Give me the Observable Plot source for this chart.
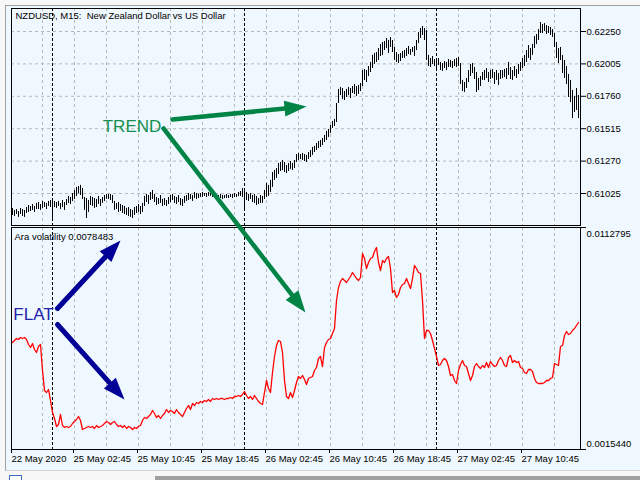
<!DOCTYPE html>
<html><head><meta charset="utf-8">
<script src="https://cdn.jsdelivr.net/npm/d3@7"></script>
<script src="https://cdn.jsdelivr.net/npm/@observablehq/plot@0.6"></script>
<style>
html,body{margin:0;padding:0;background:#ffffff;}
#wrap{position:relative;width:640px;height:480px;overflow:hidden;background:#f7f7f7;}
#win{position:absolute;left:5px;top:5px;width:635px;height:466px;border-left:1px solid #a0a0a0;border-top:1px solid #a0a0a0;border-bottom:1px solid #d4d4d4;background:#f0f8ff;box-sizing:border-box;}
#bar{position:absolute;left:155px;top:476px;width:485px;height:4px;background:#a0a0a0;}
#tab{position:absolute;left:9px;top:475px;width:11px;height:8px;border:1px solid #3a6fc4;background:#ffffff;}
.layer{position:absolute;left:0;top:0;}
</style></head>
<body><div id="wrap"><div id="win"></div><div id="bar"></div><div id="tab"></div><div id="bot" class="layer"></div><div id="topLayer" class="layer"></div></div>
<script>
// ---- data (bar index 0 = 22 May 2020 19:00, M15) ----
const high = [
0.60912,0.60897,0.60904,0.60889,0.60912,0.60904,0.60897,0.60919,0.60934,0.60927,
0.60942,0.60927,0.60950,0.60957,0.60942,0.60965,0.60957,0.60950,0.60965,0.60972,
0.60972,0.60965,0.60957,0.60965,0.60950,0.60972,0.60957,0.60980,0.61003,0.60995,
0.61025,0.61048,0.61071,0.61078,0.61086,0.61063,0.60995,0.60987,0.60972,0.61003,
0.60995,0.60987,0.60980,0.61003,0.60980,0.60995,0.61010,0.61018,0.61018,0.61018,
0.61010,0.60965,0.60950,0.60957,0.60942,0.60934,0.60927,0.60912,0.60919,0.60904,
0.60897,0.60919,0.60927,0.60942,0.60927,0.60950,0.61003,0.61018,0.61010,0.61033,
0.61048,0.61018,0.60995,0.60987,0.61010,0.60980,0.60987,0.60972,0.60995,0.61010,
0.61018,0.61003,0.60995,0.61010,0.60987,0.60980,0.61003,0.61010,0.61025,0.61018,
0.61010,0.61033,0.61025,0.61018,0.61025,0.61033,0.61025,0.61025,0.61033,0.61025,
0.61018,0.61025,0.61018,0.61010,0.61018,0.61010,0.61010,0.61018,0.61010,0.61018,
0.61018,0.61025,0.61018,0.61033,0.61040,0.61063,0.61048,0.61033,0.61018,0.61025,
0.61010,0.61018,0.61003,0.60987,0.61010,0.61003,0.61048,0.61101,0.61086,0.61124,
0.61184,0.61199,0.61214,0.61252,0.61260,0.61275,0.61260,0.61237,0.61252,0.61267,
0.61252,0.61275,0.61320,0.61328,0.61320,0.61328,0.61320,0.61313,0.61335,0.61350,
0.61373,0.61381,0.61403,0.61418,0.61426,0.61441,0.61464,0.61494,0.61509,0.61539,
0.61570,0.61585,0.61706,0.61812,0.61827,0.61819,0.61796,0.61812,0.61827,0.61819,
0.61834,0.61849,0.61834,0.61842,0.61857,0.61955,0.61963,0.61955,0.61985,0.62016,
0.62069,0.62084,0.62091,0.62121,0.62152,0.62167,0.62174,0.62197,0.62182,0.62205,
0.62182,0.62129,0.62091,0.62076,0.62084,0.62099,0.62106,0.62121,0.62137,0.62114,
0.62129,0.62137,0.62182,0.62242,0.62273,0.62288,0.62273,0.62258,0.62069,0.62046,
0.62061,0.62038,0.62031,0.62046,0.62016,0.62008,0.62023,0.62016,0.62038,0.62031,
0.62023,0.62038,0.62046,0.62053,0.62008,0.61880,0.61864,0.61895,0.61955,0.62001,
0.62008,0.61978,0.61940,0.61895,0.61910,0.61940,0.61955,0.61970,0.61940,0.61955,
0.61963,0.61940,0.61955,0.61932,0.61955,0.61955,0.61963,0.61970,0.62016,0.61978,
0.61955,0.61985,0.61963,0.62001,0.62016,0.62046,0.62069,0.62106,0.62144,0.62121,
0.62152,0.62212,0.62227,0.62265,0.62318,0.62303,0.62310,0.62295,0.62288,0.62280,
0.62265,0.62235,0.62167,0.62121,0.62129,0.62069,0.62031,0.61985,0.61925,0.61880,
0.61804,0.61759,0.61819,0.61766];
const low = [
0.60859,0.60851,0.60866,0.60844,0.60866,0.60851,0.60844,0.60874,0.60882,0.60889,
0.60897,0.60882,0.60904,0.60904,0.60897,0.60912,0.60919,0.60904,0.60927,0.60919,
0.60821,0.60919,0.60912,0.60927,0.60904,0.60919,0.60897,0.60934,0.60950,0.60942,
0.60965,0.60980,0.61003,0.61025,0.61010,0.60980,0.60897,0.60836,0.60882,0.60934,
0.60927,0.60912,0.60919,0.60942,0.60927,0.60950,0.60965,0.60980,0.60980,0.60972,
0.60950,0.60897,0.60904,0.60882,0.60889,0.60874,0.60866,0.60859,0.60851,0.60844,
0.60836,0.60859,0.60874,0.60882,0.60866,0.60882,0.60927,0.60957,0.60942,0.60972,
0.60980,0.60957,0.60934,0.60942,0.60950,0.60927,0.60934,0.60927,0.60942,0.60957,
0.60972,0.60950,0.60942,0.60957,0.60934,0.60927,0.60950,0.60965,0.60972,0.60980,
0.60965,0.60987,0.60980,0.60987,0.60995,0.60995,0.61003,0.60995,0.61003,0.61003,
0.60995,0.60995,0.60987,0.60987,0.60987,0.60980,0.60987,0.60987,0.60987,0.60995,
0.60987,0.60995,0.60995,0.61003,0.61003,0.60995,0.60897,0.60972,0.60965,0.60980,
0.60957,0.60950,0.60934,0.60942,0.60950,0.60950,0.60980,0.60995,0.61003,0.61033,
0.61071,0.61124,0.61139,0.61169,0.61192,0.61199,0.61184,0.61176,0.61192,0.61207,
0.61199,0.61214,0.61260,0.61275,0.61282,0.61275,0.61267,0.61260,0.61282,0.61297,
0.61313,0.61335,0.61350,0.61365,0.61373,0.61388,0.61411,0.61426,0.61449,0.61479,
0.61517,0.61532,0.61562,0.61706,0.61766,0.61736,0.61728,0.61751,0.61766,0.61743,
0.61781,0.61774,0.61759,0.61774,0.61796,0.61834,0.61880,0.61864,0.61910,0.61940,
0.61970,0.62001,0.62016,0.62031,0.62061,0.62069,0.62106,0.62121,0.62084,0.62129,
0.62091,0.62031,0.62016,0.62008,0.62023,0.62046,0.62046,0.62061,0.62076,0.62069,
0.62091,0.62061,0.62106,0.62159,0.62197,0.62220,0.62182,0.62031,0.61985,0.61978,
0.62001,0.61985,0.61970,0.61993,0.61955,0.61948,0.61970,0.61955,0.61978,0.61978,
0.61970,0.61985,0.61978,0.61985,0.61849,0.61796,0.61789,0.61819,0.61864,0.61910,
0.61932,0.61887,0.61789,0.61804,0.61834,0.61880,0.61880,0.61895,0.61864,0.61887,
0.61895,0.61849,0.61880,0.61842,0.61887,0.61895,0.61902,0.61887,0.61917,0.61887,
0.61880,0.61910,0.61895,0.61925,0.61948,0.61970,0.61985,0.62016,0.62046,0.62031,
0.62069,0.62121,0.62152,0.62182,0.62235,0.62235,0.62250,0.62227,0.62235,0.62220,
0.62205,0.62129,0.62046,0.62008,0.62031,0.61932,0.61895,0.61849,0.61751,0.61713,
0.61592,0.61638,0.61653,0.61592];
const vol = [
0.0062360,0.0063237,0.0064114,0.0063675,0.0064552,0.0064114,0.0064552,0.0063675,0.0061483,0.0060167,
0.0061921,0.0059290,0.0057975,0.0060606,0.0061483,0.0050082,0.0041312,0.0040435,0.0041750,0.0036927,
0.0031665,0.0029034,0.0025526,0.0026403,0.0030788,0.0025964,0.0025087,0.0025526,0.0025087,0.0025526,
0.0026841,0.0027718,0.0028595,0.0029911,0.0028157,0.0024210,0.0024649,0.0025087,0.0025526,0.0025087,
0.0025526,0.0024649,0.0025964,0.0025087,0.0025526,0.0025964,0.0026841,0.0027718,0.0027280,0.0026403,
0.0027280,0.0027718,0.0026403,0.0025526,0.0025964,0.0025087,0.0025964,0.0024649,0.0025526,0.0025087,
0.0024210,0.0025087,0.0024649,0.0025526,0.0025964,0.0028157,0.0029472,0.0029034,0.0029911,0.0030788,
0.0032542,0.0031226,0.0029472,0.0030349,0.0029034,0.0030349,0.0031226,0.0032980,0.0031665,0.0032542,
0.0032103,0.0031226,0.0032980,0.0031665,0.0030788,0.0029911,0.0031665,0.0033419,0.0034734,0.0032980,
0.0035611,0.0034734,0.0036050,0.0035611,0.0036488,0.0036050,0.0036927,0.0036488,0.0037365,0.0036488,
0.0037804,0.0037365,0.0037804,0.0037365,0.0037804,0.0037804,0.0037365,0.0037804,0.0037804,0.0038242,
0.0037804,0.0038681,0.0038681,0.0039119,0.0038681,0.0039558,0.0040873,0.0039119,0.0037804,0.0038681,
0.0037365,0.0039119,0.0037804,0.0036488,0.0035611,0.0035173,0.0040435,0.0045697,0.0042189,0.0040435,
0.0049205,0.0056221,0.0061044,0.0063237,0.0062798,0.0057975,0.0045697,0.0038681,0.0037804,0.0040435,
0.0038242,0.0041312,0.0044820,0.0047451,0.0046574,0.0047889,0.0046135,0.0043943,0.0046574,0.0047012,
0.0047451,0.0050082,0.0051397,0.0055344,0.0056221,0.0051836,0.0060167,0.0062360,0.0063675,0.0064114,
0.0066306,0.0068499,0.0080777,0.0086477,0.0089108,0.0090424,0.0089547,0.0088670,0.0089985,0.0091301,
0.0093055,0.0091739,0.0090424,0.0089547,0.0090862,0.0101386,0.0099194,0.0094809,0.0097440,0.0099194,
0.0099632,0.0102263,0.0104017,0.0097440,0.0093932,0.0098317,0.0097440,0.0099194,0.0100071,0.0094809,
0.0084285,0.0085162,0.0082092,0.0083408,0.0086477,0.0087793,0.0088231,0.0090424,0.0088231,0.0086038,
0.0090424,0.0096124,0.0094809,0.0093055,0.0092616,0.0080777,0.0064114,0.0067622,0.0067622,0.0066306,
0.0063237,0.0059729,0.0056221,0.0052274,0.0052713,0.0054467,0.0055344,0.0054467,0.0051836,0.0047889,
0.0048328,0.0045697,0.0044381,0.0050082,0.0052713,0.0054467,0.0052274,0.0051836,0.0048766,0.0045697,
0.0047889,0.0051836,0.0053151,0.0051836,0.0050959,0.0052274,0.0051397,0.0053590,0.0051397,0.0054028,
0.0052713,0.0051836,0.0052274,0.0054467,0.0055782,0.0054467,0.0052274,0.0051836,0.0055782,0.0056659,
0.0053590,0.0054467,0.0053590,0.0054028,0.0051397,0.0050959,0.0049205,0.0048766,0.0050520,0.0050520,
0.0049643,0.0046574,0.0044820,0.0044381,0.0044381,0.0044381,0.0044820,0.0045697,0.0045697,0.0046574,
0.0047012,0.0053151,0.0052713,0.0052274,0.0060606,0.0061044,0.0065429,0.0067183,0.0065868,0.0066306,
0.0067622,0.0068499,0.0069814,0.0071130];

const xTickIdx = [0, 31, 63, 95, 127, 159, 191, 223, 255];
const xTickLabels = ["22 May 2020","25 May 02:45","25 May 10:45","25 May 18:45","26 May 02:45","26 May 10:45","26 May 18:45","27 May 02:45","27 May 10:45"];
const gridIdx = [15,31,47,63,79,95,111,127,143,159,175,191,207,223,239,255,271];
const daySepIdx = [20, 116, 212];
const priceTicks = [0.62250, 0.62005, 0.61760, 0.61515, 0.61270, 0.61025];
const priceDomain = [0.6078303, 0.6242392];
const volDomain = [0.0015440, 0.0112795];
const titleText = ["NZDUSD, M15: \u00a0New Zealand Dollar vs US Dollar"];
const indicatorText = ["Ara volatility 0.0078483"];

// annotations (x in bar index, y in panel units)
const trendLabel = [{x: 59.75, y: 0.61528, text: "TREND"}];
const trendArrows = [
  {x1: 80, y1: 0.61585, x2: 147, y2: 0.61683},
  {x1: 75.5, y1: 0.61517, x2: 146.5, y2: 0.60125}
];
const flatLabel = [{x: 10.5, y: 0.007464, text: "FLAT"}];
const flatArrows = [
  {x1: 22.5, y1: 0.007727, x2: 54, y2: 0.010709},
  {x1: 22.5, y1: 0.007026, x2: 56, y2: 0.003737}
];

(function () {
const bars = high.map((h, i) => ({i, high: h, low: low[i], vol: vol[i]}));

const W = 640, H = 480, ML = 11, MR = 60;
const xDomain = [-0.5, 284];
const HEAD_L = 22, HEAD_W = 8;
const headSymbol = {draw(ctx) { ctx.moveTo(0, 0); ctx.lineTo(HEAD_W, HEAD_L); ctx.lineTo(-HEAD_W, HEAD_L); ctx.closePath(); }};

const xs = d3.scaleLinear(xDomain, [ML, W - MR]);
function arrowParts(list, ys) {
  return list.map(a => {
    const dx = xs(a.x2) - xs(a.x1), dy = ys(a.y2) - ys(a.y1);
    const len = Math.hypot(dx, dy);
    const f = (HEAD_L - 3) / len;
    return {...a, sx2: a.x2 - f * (a.x2 - a.x1), sy2: a.y2 - f * (a.y2 - a.y1), rot: Math.atan2(dx, -dy) * 180 / Math.PI};
  });
}
const green = "#008446", textGreen = "#12904f", navy = "#000096", flatBlue = "#2222aa";
const gTop = arrowParts(trendArrows, d3.scaleLinear(priceDomain, [225, 8]));
const gBot = arrowParts(flatArrows, d3.scaleLinear(volDomain, [449, 227]));

const style = {background: "transparent", fontFamily: "'Liberation Sans', Arial, sans-serif", fontSize: "9.5px", color: "black", overflow: "visible"};
const gridOpts = {stroke: "#b8b8b8", strokeOpacity: 1, strokeDasharray: "3,3"};

const bottomPlot = Plot.plot({
  width: W, height: H, marginLeft: ML, marginRight: MR, marginTop: 227, marginBottom: 31,
  style,
  x: {domain: xDomain, axis: null},
  y: {domain: volDomain, axis: null},
  marks: [
    Plot.gridX(gridIdx, gridOpts),
    Plot.ruleX(daySepIdx, {stroke: "black", strokeDasharray: "3,2"}),
    Plot.line(bars, {x: "i", y: "vol", stroke: "#ff0000", strokeWidth: 1.3}),
    Plot.frame({stroke: "black"}),
    Plot.axisX(xTickIdx, {anchor: "bottom", tickSize: 4, tickPadding: 2, textAnchor: "start", dx: -1, label: null,
      tickFormat: d => xTickLabels[xTickIdx.indexOf(d)]}),
    Plot.axisY(volDomain, {anchor: "right", tickSize: 5, fill: "none", label: null}),
    Plot.axisY([volDomain[1]], {anchor: "right", tickSize: 0, tickPadding: 6, dy: 6, label: null, tickFormat: d3.format(".7f")}),
    Plot.axisY([volDomain[0]], {anchor: "right", tickSize: 0, tickPadding: 6, dy: -6, label: null, tickFormat: d3.format(".7f")}),
    Plot.text(indicatorText, {frameAnchor: "top-left", dx: 3, dy: 6, textAnchor: "start", lineAnchor: "top", fill: "black"}),
    Plot.text(flatLabel, {x: "x", y: "y", text: "text", fill: flatBlue, fontSize: 17, textAnchor: "middle"}),
    Plot.link(gBot, {x1: "x1", y1: "y1", x2: "sx2", y2: "sy2", stroke: navy, strokeWidth: 5, strokeLinecap: "round"}),
    Plot.dot(gBot, {x: "x2", y: "y2", rotate: "rot", symbol: headSymbol, r: 5, fill: navy, stroke: "none"})
  ]
});
document.getElementById("bot").appendChild(bottomPlot);

const topPlot = Plot.plot({
  width: W, height: H, marginLeft: ML, marginRight: MR, marginTop: 8, marginBottom: 255,
  style,
  x: {domain: xDomain, axis: null},
  y: {domain: priceDomain, axis: null},
  marks: [
    Plot.gridX(gridIdx, gridOpts),
    Plot.gridY(priceTicks, gridOpts),
    Plot.ruleX(daySepIdx, {stroke: "black", strokeDasharray: "3,2"}),
    Plot.ruleX(bars, {x: "i", y1: "low", y2: "high", stroke: "black", strokeWidth: 1}),
    Plot.frame({stroke: "black"}),
    Plot.axisY(priceTicks, {anchor: "right", tickSize: 5, tickPadding: 1, label: null, tickFormat: d3.format(".5f")}),
    Plot.text(titleText, {frameAnchor: "top-left", dx: 4, dy: 4, textAnchor: "start", lineAnchor: "top", fill: "black"}),
    Plot.text(trendLabel, {x: "x", y: "y", text: "text", fill: textGreen, fontSize: 17, textAnchor: "middle"}),
    Plot.link(gTop, {x1: "x1", y1: "y1", x2: "sx2", y2: "sy2", stroke: green, strokeWidth: 4.5, strokeLinecap: "round"}),
    Plot.dot(gTop, {x: "x2", y: "y2", rotate: "rot", symbol: headSymbol, r: 5, fill: green, stroke: "none"})
  ]
});
document.getElementById("topLayer").appendChild(topPlot);
})();
</script>
</body></html>
